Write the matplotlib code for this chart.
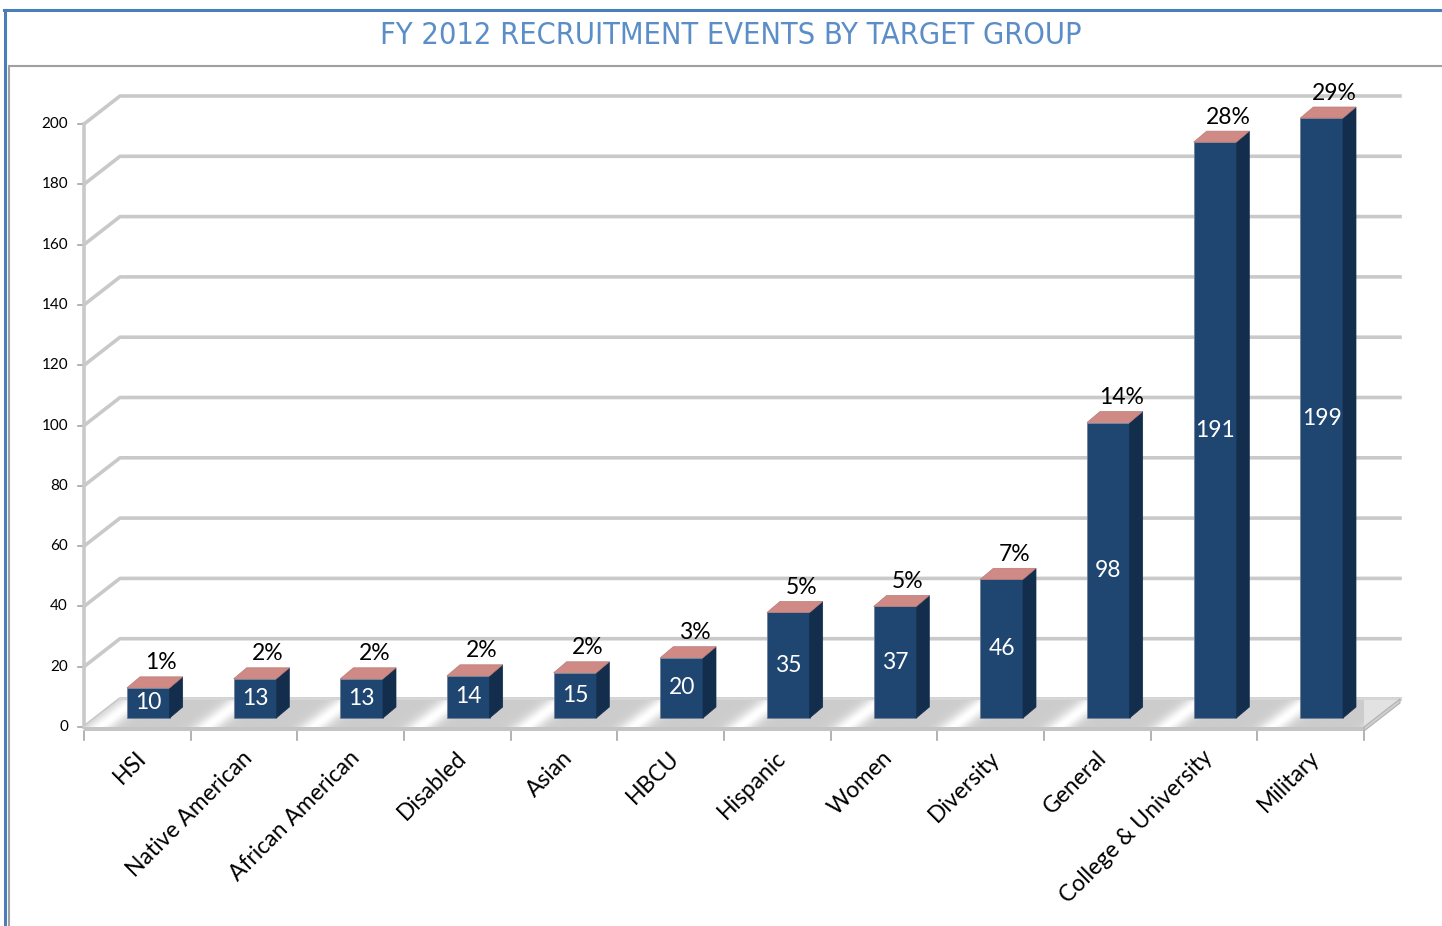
import matplotlib.pyplot as plt
from matplotlib.patches import Polygon
from matplotlib.lines import Line2D
import numpy as np

categories = ["HSI", "Native American", "African American", "Disabled", "Asian", "HBCU",
              "Hispanic", "Women", "Diversity", "General", "College & University", "Military"]
events = [10, 13, 13, 14, 15, 20, 35, 37, 46, 98, 191, 199]
shares = [1, 2, 2, 2, 2, 3, 5, 5, 7, 14, 28, 29]
yticks = np.arange(0, 201, 20)

W, H = 1442, 926
fig = plt.figure(figsize=(W / 100, H / 100), dpi=100)
plt.rcParams['font.family'] = ['Lato', 'DejaVu Sans']

# front plane of the 3d box, in pixels
L, R, B, T = 84, 1364, 727, 124
ax = fig.add_axes([L / W, 1 - B / H, (R - L) / W, (B - T) / H])
n = len(categories)
ax.set_xlim(0, n)
ax.set_ylim(0, 200)
ax.axis('off')

ux = (R - L) / n
uy = (B - T) / 200


def off(px, py=0):
    return px / ux, py / uy


wdx, wdy = off(36, 28)      # wall depth
fdx, fdy = off(11, 9)       # bar front face shift
sdx, sdy = off(13, 11)      # bar depth
grid_c = '#c9c9c9'

# back wall grid + left wall diagonals
for v in yticks:
    ax.plot([0, wdx, n + wdx], [v, v + wdy, v + wdy], color=grid_c, lw=2.6,
            clip_on=False, zorder=1, solid_joinstyle='round')
    tx, _ = off(6)
    ax.plot([-tx, 0], [v, v], color='#a6a6a6', lw=1.2, clip_on=False, zorder=1)
    ax.text(-off(16)[0], v, str(v), ha='right', va='center', fontsize=11,
            color='black', clip_on=False)
ax.plot([0, 0], [0, 200], color=grid_c, lw=2.6, clip_on=False, zorder=1)

# floor
floor = Polygon([(0, 0), (n, 0), (n + wdx, wdy), (wdx, wdy)], closed=True,
                facecolor='#e2e2e2', edgecolor='none', zorder=2, clip_on=False)
ax.add_patch(floor)
gx = np.linspace(0, n + wdx, 1400)
gy = np.linspace(0, wdy, 40)
X, Y = np.meshgrid(gx, gy)
phase = (X - Y * (wdx / wdy)) % 1.0
d = np.minimum(np.abs(phase - 0.15), 1 - np.abs(phase - 0.15))
shade = 0.80 + 0.20 * np.exp(-(d / 0.13) ** 2)
im = ax.imshow(shade, cmap='gray', vmin=0, vmax=1, extent=[0, n + wdx, 0, wdy],
               origin='lower', aspect='auto', zorder=2.1, interpolation='bilinear')
im.set_clip_path(floor)
ax.set_xlim(0, n)
ax.set_ylim(0, 200)
ax.plot([wdx, n + wdx], [wdy, wdy], color='#d6d6d6', lw=1.5, zorder=2.2, clip_on=False)
bd = off(0, 4)[1]
ax.add_patch(Polygon([(0, 0), (n, 0), (n, -bd), (0, -bd)], closed=True,
                     facecolor='#c4c4c4', edgecolor='none', zorder=2.2, clip_on=False))
ax.add_patch(Polygon([(n, 0), (n + wdx, wdy), (n + wdx, wdy - bd), (n, -bd)], closed=True,
                     facecolor='#cfcfcf', edgecolor='#b0b0b0', lw=0.8, zorder=2.2, clip_on=False))
for i in range(n + 1):
    ax.plot([i, i], [-bd, -off(0, 13)[1]], color='#a6a6a6', lw=1.2, clip_on=False, zorder=2)

# bars
bw = 0.40
xc = np.arange(n) + 0.5 + fdx
ax.bar(xc, events, width=bw, bottom=fdy, color='#1f4670', edgecolor='#6f819a',
       linewidth=0.6, zorder=3, clip_on=False)
for x, v, p in zip(xc, events, shares):
    xl, xr = x - bw / 2, x + bw / 2
    top = fdy + v
    ax.add_patch(Polygon([(xr, fdy), (xr + sdx, fdy + sdy), (xr + sdx, top + sdy), (xr, top)],
                         closed=True, facecolor='#132d4c', edgecolor='#132d4c', lw=0.5,
                         zorder=3.1, clip_on=False))
    ax.add_patch(Polygon([(xl, top), (xr, top), (xr + sdx, top + sdy), (xl + sdx, top + sdy)],
                         closed=True, facecolor='#cf8a85', edgecolor='#b87a76', lw=0.5,
                         zorder=3.2, clip_on=False))
    ax.text(x, fdy + v / 2, str(v), ha='center', va='center', color='white',
            fontsize=16.5, zorder=4, clip_on=False)
    ax.text(x + off(13)[0], top + sdy + off(0, 14)[1], f"{p}%", ha='center', va='center',
            color='black', fontsize=16.5, zorder=4, clip_on=False)

# category labels
for i, name in enumerate(categories):
    ax.text(i + 0.5 - off(2)[0], -off(0, 20)[1], name, rotation=45, rotation_mode='anchor',
            ha='right', va='top', fontsize=16.5, color='black', clip_on=False)

# frames
fig.add_artist(Line2D([5 / W, 5 / W], [0, 1 - 10 / H], color='#4a7ebb', lw=2.2))
fig.add_artist(Line2D([4 / W, 1], [1 - 10 / H, 1 - 10 / H], color='#4a7ebb', lw=2.2))
fig.add_artist(Line2D([9 / W, 9 / W], [0, 1 - 66 / H], color='#a0a0a0', lw=1.5))
fig.add_artist(Line2D([9 / W, 1], [1 - 66 / H, 1 - 66 / H], color='#a0a0a0', lw=1.5))

fig.text(731 / W, 1 - 36 / H, "FY 2012 RECRUITMENT EVENTS BY TARGET GROUP",
         ha='center', va='center', fontsize=22, color='#5b8ec7',
         family='DejaVu Sans', fontstretch='condensed')

fig.savefig('out.png', dpi=100)
